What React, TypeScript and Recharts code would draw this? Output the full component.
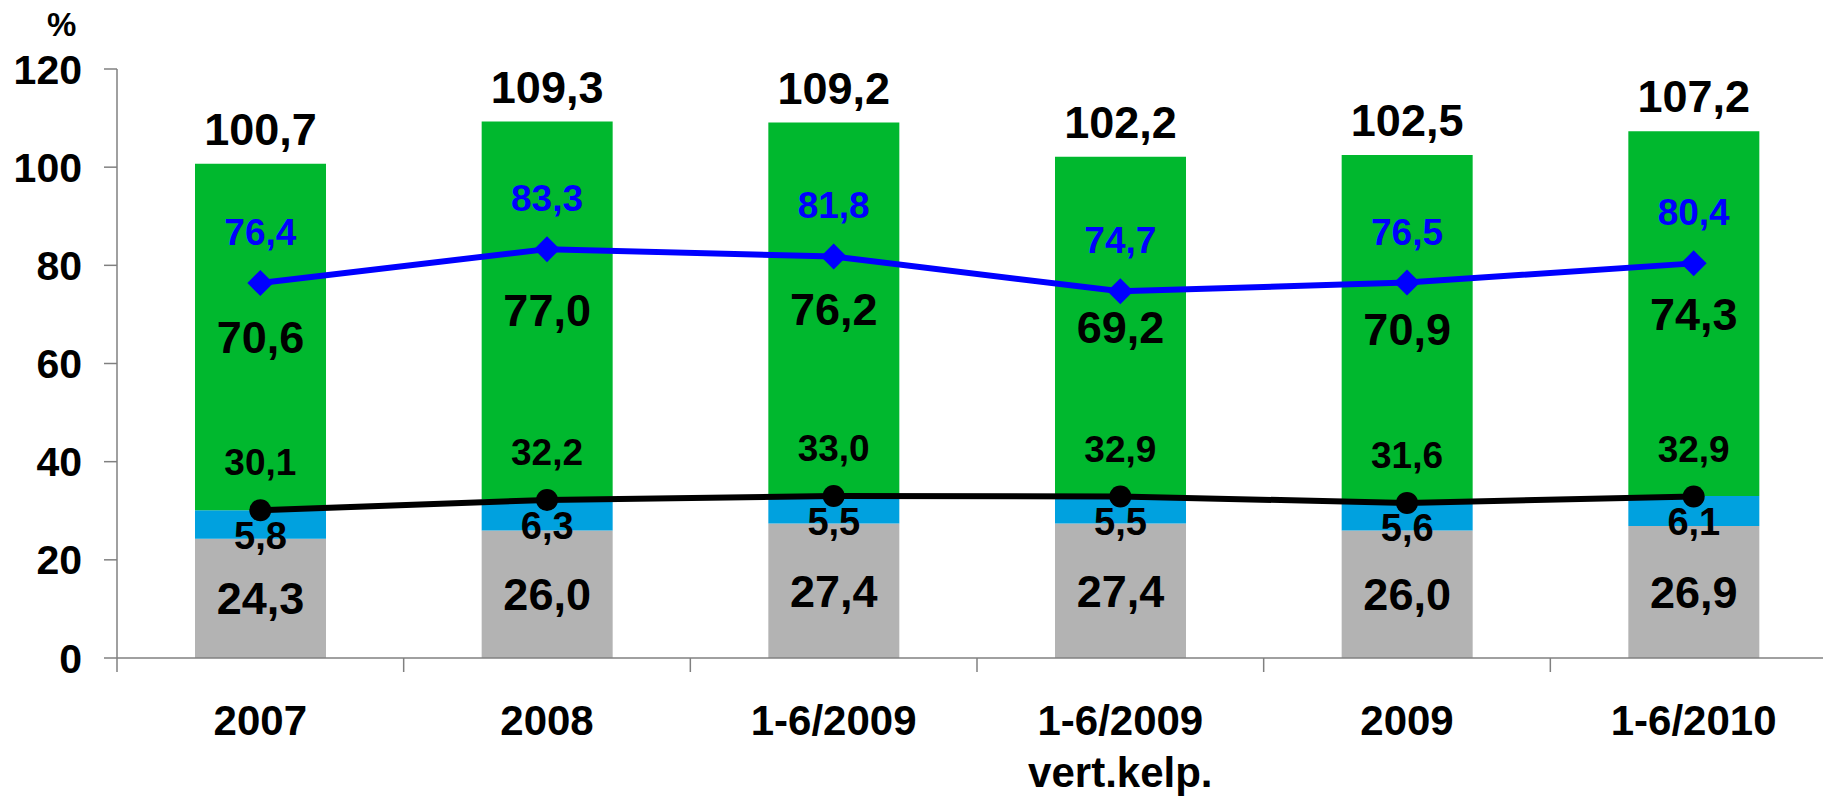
import React from 'react';
import { ComposedChart, Bar, Line, XAxis, YAxis, LabelList } from 'recharts';

// chart values
const categories = ['2007', '2008', '1-6/2009', '1-6/2009', '2009', '1-6/2010'];
const subLabels = ['', '', '', 'vert.kelp.', '', ''];
const grayValues = [24.3, 26.0, 27.4, 27.4, 26.0, 26.9];
const blueValues = [5.8, 6.3, 5.5, 5.5, 5.6, 6.1];
const greenValues = [70.6, 77.0, 76.2, 69.2, 70.9, 74.3];
const totalValues = [100.7, 109.3, 109.2, 102.2, 102.5, 107.2];
const blueLineValues = [76.4, 83.3, 81.8, 74.7, 76.5, 80.4];
const blackLineValues = [30.1, 32.2, 33.0, 32.9, 31.6, 32.9];
const yTicks = [0, 20, 40, 60, 80, 100, 120];

const data = categories.map((name, i) => ({
  id: `c${i}`,
  name,
  gray: grayValues[i],
  blue: blueValues[i],
  green: greenValues[i],
  total: totalValues[i],
  blueLine: blueLineValues[i],
  blackLine: blackLineValues[i],
}));

const FONT = '"Liberation Sans", Arial, sans-serif';
const AXIS = '#808080';

const fmt = (v: any) => Number(v).toFixed(1).replace('.', ',');

// category label plus tick marks on the band edges (Excel style)
const CategoryTick = ({ x, y, payload }: any) => {
  const i = payload.index;
  const half = payload.offset || 0;
  const last = i === categories.length - 1;
  return (
    <g>
      <line x1={x - half} x2={x - half} y1={y} y2={y + 14} stroke={AXIS} strokeWidth={1.5} />
      {last && <line x1={x + half} x2={x + half} y1={y} y2={y + 14} stroke={AXIS} strokeWidth={1.5} />}
      <text x={x} y={y + 77} textAnchor="middle" fontSize={42} fontWeight="bold" fill="#000" fontFamily={FONT}>
        <tspan x={x}>{categories[i]}</tspan>
        {subLabels[i] && (
          <tspan x={x} dy={52}>
            {subLabels[i]}
          </tspan>
        )}
      </text>
    </g>
  );
};

const boxOf = (p: any) => {
  const vb = p.viewBox || {};
  return {
    x: p.x ?? vb.x,
    y: p.y ?? vb.y,
    width: p.width ?? vb.width,
    height: p.height ?? vb.height,
  };
};

const BlueSegLabel = (p: any) => {
  const b = boxOf(p);
  const cx = b.x + b.width / 2;
  const cy = b.y + b.height / 2 + 11;
  return (
    <text x={cx} y={cy} dy="0.355em" textAnchor="middle" fontSize={38} fontWeight="bold" fill="#000" fontFamily={FONT}>
      {fmt(p.value)}
    </text>
  );
};

const TotalLabel = (p: any) => {
  const b = boxOf(p);
  const cx = b.x + b.width / 2;
  const top = Math.min(b.y, b.y + b.height);
  return (
    <text x={cx} y={top - 19} textAnchor="middle" fontSize={45} fontWeight="bold" fill="#000" fontFamily={FONT}>
      {fmt(totalValues[p.index])}
    </text>
  );
};

const lineLabel = (color: string, gap: number) => (p: any) => (
  <text x={p.x} y={p.y - gap} textAnchor="middle" fontSize={37} fontWeight="bold" fill={color} fontFamily={FONT}>
    {fmt(p.value)}
  </text>
);

const Diamond = (p: any) => {
  const { cx, cy } = p;
  const s = 13;
  return (
    <path
      key={`d-${p.index}`}
      d={`M${cx},${cy - s}L${cx + s},${cy}L${cx},${cy + s}L${cx - s},${cy}Z`}
      fill="#0000FF"
    />
  );
};

export default function App() {
  return (
    <div
      style={{
        position: 'absolute',
        left: 0,
        top: 0,
        width: 1823,
        height: 796,
        overflow: 'hidden',
        background: '#fff',
        fontFamily: FONT,
      }}
    >
      <div
        style={{
          position: 'absolute',
          left: 47,
          top: 8,
          fontSize: 33,
          lineHeight: '33px',
          fontWeight: 'bold',
          color: '#000',
        }}
      >
        %
      </div>
      <ComposedChart
        width={1837}
        height={796}
        data={data}
        margin={{ top: 69, right: 0, bottom: 137, left: 0 }}
        style={{ fontFamily: FONT }}
      >
        <XAxis
          dataKey="id"
          type="category"
          height={1}
          tickSize={0}
          tickMargin={0}
          tickLine={false}
          axisLine={{ stroke: AXIS, strokeWidth: 1.5 }}
          tick={<CategoryTick />}
          interval={0}
        />
        <YAxis
          width={117}
          domain={[0, 120]}
          ticks={yTicks}
          interval={0}
          tickSize={13}
          tickMargin={22}
          axisLine={{ stroke: AXIS, strokeWidth: 1.5 }}
          tickLine={{ stroke: AXIS, strokeWidth: 1.5 }}
          tick={{ fontSize: 41, fontWeight: 'bold', fill: '#000', fontFamily: FONT }}
        />
        <Bar dataKey="gray" stackId="a" fill="#B3B3B3" barSize={131} isAnimationActive={false}>
          <LabelList
            dataKey="gray"
            position="center"
            formatter={fmt}
            style={{ fontSize: 45, fontWeight: 'bold', fill: '#000', fontFamily: FONT }}
          />
        </Bar>
        <Bar dataKey="blue" stackId="a" fill="#00A1DF" barSize={131} isAnimationActive={false}>
          <LabelList dataKey="blue" content={<BlueSegLabel />} />
        </Bar>
        <Bar dataKey="green" stackId="a" fill="#00B82E" barSize={131} isAnimationActive={false}>
          <LabelList
            dataKey="green"
            position="center"
            formatter={fmt}
            style={{ fontSize: 45, fontWeight: 'bold', fill: '#000', fontFamily: FONT }}
          />
          <LabelList dataKey="total" content={<TotalLabel />} />
        </Bar>
        <Line
          dataKey="blackLine"
          type="linear"
          stroke="#000"
          strokeWidth={6}
          dot={{ r: 11, fill: '#000', stroke: '#000', strokeWidth: 0 }}
          activeDot={false}
          isAnimationActive={false}
        >
          <LabelList dataKey="blackLine" content={lineLabel('#000', 35)} />
        </Line>
        <Line
          dataKey="blueLine"
          type="linear"
          stroke="#0000FF"
          strokeWidth={6}
          dot={<Diamond />}
          activeDot={false}
          isAnimationActive={false}
        >
          <LabelList dataKey="blueLine" content={lineLabel('#0000FF', 38)} />
        </Line>
      </ComposedChart>
    </div>
  );
}
